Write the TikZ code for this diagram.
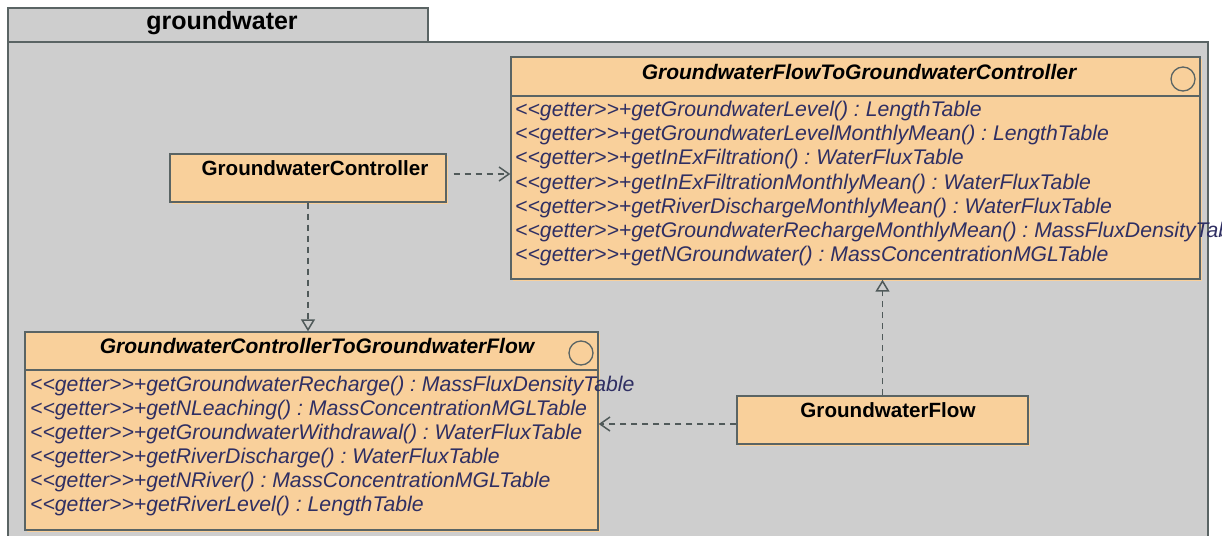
\documentclass[tikz,border=0pt]{standalone}
\usepackage{fontspec}
\setmainfont{Liberation Sans}
\usetikzlibrary{arrows.meta,shadows}
\definecolor{pkgfill}{HTML}{CECECE}
\definecolor{pkgline}{HTML}{5A6464}
\definecolor{peach}{HTML}{F9D09B}
\definecolor{attrcol}{HTML}{2F2F63}
\definecolor{conncol}{HTML}{505A5A}
\newcommand\gtr{{<}{<}getter{>}{>}}
\frenchspacing
\tikzset{
  classbox/.style={draw=pkgline, line width=1.4pt, fill=peach, inner sep=0pt,
    drop shadow={shadow xshift=2pt, shadow yshift=-2pt, fill=peach, opacity=1}},
  sep/.style={draw=pkgline, line width=1.4pt},
  icon/.style={circle, draw=pkgline, line width=1.3pt, minimum size=24pt, inner sep=0pt},
  attr/.style={anchor=base west, inner sep=0pt, text=attrcol,
    font=\fontsize{21.2}{24}\selectfont\itshape},
  ctitle/.style={anchor=base, inner sep=0pt, font=\fontsize{21}{24}\selectfont\bfseries\itshape},
  cname/.style={anchor=base, inner sep=0pt, font=\fontsize{20.6}{24}\selectfont\bfseries},
  dep/.style={draw=conncol, line width=1.8pt, dash pattern=on 6pt off 5pt,
    -{Straight Barb[length=10pt,width=14pt,line width=1.5pt]}},
  real/.style={draw=conncol, line width=1.8pt, dash pattern=on 6pt off 5pt,
    -{Triangle[open,length=12pt,width=14pt,line width=1.5pt,fill=pkgfill]}}
}
\begin{document}
\begin{tikzpicture}[x=1pt,y=-1pt]
\useasboundingbox (0,0) rectangle (1222,535);
% package
\fill[pkgfill] (8,42) rectangle (1208,540);
\draw[pkgline, line width=2pt] (8,540) -- (8,42) -- (1208,42) -- (1208,540);
\draw[pkgline, line width=2pt, fill=pkgfill] (8,8) rectangle (428,42);
\node[anchor=base, inner sep=0pt, font=\fontsize{25}{28}\selectfont\bfseries] (pkgname) at (222,30) {groundwater};

% upper interface
\node[classbox, minimum width=689pt, minimum height=222pt] (gfgc) at (855.5,168) {};
\draw[sep] (gfgc.west |- 0,96) -- (gfgc.east |- 0,96);
\node[icon] (c1) at (1183,79) {};
\node[ctitle] (t1) at (859,79) {GroundwaterFlowToGroundwaterController};
\node[attr] (a1) at (515,116.5) {\gtr+getGroundwaterLevel() : LengthTable};
\node[attr] (a2) at (515,140.7) {\gtr+getGroundwaterLevelMonthlyMean() : LengthTable};
\node[attr] (a3) at (515,164.9) {\gtr+getInExFiltration() : WaterFluxTable};
\node[attr] (a4) at (515,189.1) {\gtr+getInExFiltrationMonthlyMean() : WaterFluxTable};
\node[attr] (a5) at (515,213.3) {\gtr+getRiverDischargeMonthlyMean() : WaterFluxTable};
\node[attr] (a6) at (515,237.5) {\gtr+getGroundwaterRechargeMonthlyMean() : MassFluxDensityTable};
\node[attr] (a7) at (515,261.7) {\gtr+getNGroundwater() : MassConcentrationMGLTable};

% lower interface
\node[classbox, minimum width=573pt, minimum height=198pt] (gctgf) at (311.5,431) {};
\draw[sep] (gctgf.west |- 0,370) -- (gctgf.east |- 0,370);
\node[icon] (c2) at (581,353) {};
\node[ctitle] (t2) at (317,353) {GroundwaterControllerToGroundwaterFlow};
\node[attr] (b1) at (30,391.5) {\gtr+getGroundwaterRecharge() : MassFluxDensityTable};
\node[attr] (b2) at (30,415.5) {\gtr+getNLeaching() : MassConcentrationMGLTable};
\node[attr] (b3) at (30,439.5) {\gtr+getGroundwaterWithdrawal() : WaterFluxTable};
\node[attr] (b4) at (30,463.5) {\gtr+getRiverDischarge() : WaterFluxTable};
\node[attr] (b5) at (30,487.5) {\gtr+getNRiver() : MassConcentrationMGLTable};
\node[attr] (b6) at (30,511.5) {\gtr+getRiverLevel() : LengthTable};

% classes
\node[classbox, minimum width=276pt, minimum height=48pt] (gc) at (308,178) {};
\node[cname] (gcname) at (315,175) {GroundwaterController};
\node[classbox, minimum width=291pt, minimum height=48pt] (gf) at (882.5,420) {};
\node[cname] (gfname) at (888,417) {GroundwaterFlow};

% connectors
\draw[dep, shorten <=7pt] ([yshift=4pt]gc.east) -- ([yshift=4pt]gc.east -| gfgc.west);
\draw[real] (gc.south) -- (gc.south |- gctgf.north);
\draw[real] (gf.north) -- (gf.north |- gfgc.south);
\draw[dep] ([yshift=-4pt]gf.west) -- ([yshift=-4pt]gf.west -| gctgf.east);
\end{tikzpicture}
\end{document}
